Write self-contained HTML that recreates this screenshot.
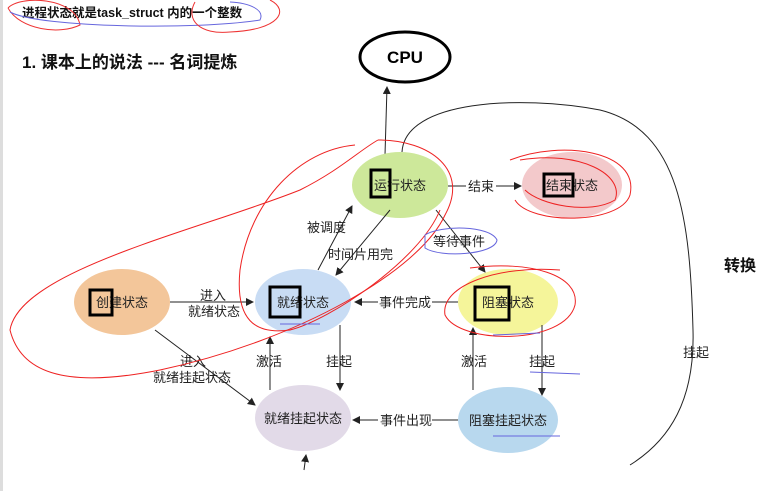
<!DOCTYPE html>
<html><head><meta charset="utf-8"><style>
body{margin:0;background:#fff;}
svg{display:block;font-family:"Liberation Sans","Noto Sans CJK SC",sans-serif;}
.t{font-size:13px;fill:#222;}
</style></head><body>
<svg width="767" height="491" viewBox="0 0 767 491">
<defs><marker id="a" markerWidth="8" markerHeight="8" refX="7" refY="4" orient="auto"><path d="M0,0 L8,4 L0,8z" fill="#222"/></marker></defs>
<rect x="0" y="0" width="3" height="491" fill="#ddd"/>
<text x="22" y="17" font-size="12.5" font-weight="bold" fill="#111">进程状态就是task_struct 内的一个整数</text>
<path d="M8,8 C20,-5 75,-3 80,25 C60,35 20,30 8,8" fill="none" stroke="#e33" stroke-width="1"/>
<path d="M10,12 C40,28 200,30 260,20 C265,10 250,3 230,2" fill="none" stroke="#66d" stroke-width="1"/>
<path d="M195,2 C185,20 200,35 230,32 C280,30 290,10 270,0" fill="none" stroke="#e33" stroke-width="1"/>
<text x="22" y="68" font-size="17" font-weight="bold" fill="#111">1. 课本上的说法 --- 名词提炼</text>
<text x="724" y="271" font-size="16" font-weight="bold" fill="#111">转换</text>

<ellipse cx="405" cy="57" rx="45" ry="25" fill="#fff" stroke="#000" stroke-width="3"/>
<text x="405" y="63" font-size="17" font-weight="bold" text-anchor="middle">CPU</text>
<line x1="385" y1="155" x2="387" y2="87" stroke="#222" marker-end="url(#a)"/>

<path d="M402,152 C405,100 520,95 600,110 C680,130 690,220 693,330 C695,400 670,440 630,465" fill="none" stroke="#222" stroke-width="1"/>
<text x="683" y="357" class="t">挂起</text>

<ellipse cx="400" cy="185" rx="48" ry="33" fill="#cde89a"/>
<ellipse cx="572" cy="185" rx="50" ry="33" fill="#f3c9cb"/>
<ellipse cx="508" cy="302" rx="50" ry="33" fill="#f5f59a"/>
<ellipse cx="508" cy="420" rx="50" ry="33" fill="#b8d8ee"/>
<ellipse cx="303" cy="302" rx="48" ry="33" fill="#c8dcf4"/>
<ellipse cx="122" cy="302" rx="48" ry="33" fill="#f3c69a"/>
<ellipse cx="303" cy="418" rx="48" ry="33" fill="#e2dae8"/>

<text x="400" y="190" class="t" text-anchor="middle">运行状态</text>
<text x="572" y="190" class="t" text-anchor="middle">结束状态</text>
<text x="508" y="307" class="t" text-anchor="middle">阻塞状态</text>
<text x="508" y="425" class="t" text-anchor="middle">阻塞挂起状态</text>
<text x="303" y="307" class="t" text-anchor="middle">就绪状态</text>
<text x="122" y="307" class="t" text-anchor="middle">创建状态</text>
<text x="303" y="423" class="t" text-anchor="middle">就绪挂起状态</text>

<g fill="none" stroke="#000" stroke-width="3">
<rect x="371" y="170" width="19" height="27"/><rect x="544" y="174" width="29" height="22"/>
<rect x="475" y="287" width="34" height="33"/><rect x="270" y="287" width="30" height="30"/>
<rect x="90" y="290" width="22" height="25"/>
</g>

<g stroke="#222" stroke-width="1" fill="none">
<line x1="448" y1="186" x2="521" y2="186" marker-end="url(#a)"/>
<line x1="436" y1="210" x2="485" y2="272" marker-end="url(#a)"/>
<line x1="458" y1="302" x2="355" y2="302" marker-end="url(#a)"/>
<line x1="318" y1="270" x2="352" y2="206" marker-end="url(#a)"/>
<line x1="390" y1="210" x2="336" y2="275" marker-end="url(#a)"/>
<line x1="170" y1="302" x2="253" y2="302" marker-end="url(#a)"/>
<line x1="155" y1="330" x2="255" y2="405" marker-end="url(#a)"/>
<line x1="270" y1="390" x2="270" y2="337" marker-end="url(#a)"/>
<line x1="340" y1="325" x2="340" y2="390" marker-end="url(#a)"/>
<line x1="458" y1="420" x2="353" y2="420" marker-end="url(#a)"/>
<line x1="473" y1="390" x2="473" y2="328" marker-end="url(#a)"/>
<line x1="542" y1="325" x2="542" y2="395" marker-end="url(#a)"/>
</g>
<g class="t">
<rect x="466" y="178" width="30" height="16" fill="#fff"/><text x="468" y="191">结束</text>
<text x="433" y="246">等待事件</text>
<rect x="378" y="294" width="54" height="16" fill="#fff"/><text x="379" y="307">事件完成</text>
<text x="307" y="232">被调度</text>
<text x="328" y="259">时间片用完</text>
<text x="200" y="300">进入</text><text x="188" y="316">就绪状态</text>
<text x="180" y="366">进入</text><text x="153" y="382">就绪挂起状态</text>
<text x="256" y="366">激活</text><text x="326" y="366">挂起</text>
<text x="461" y="366">激活</text><text x="529" y="366">挂起</text>
<rect x="378" y="412" width="54" height="16" fill="#fff"/><text x="380" y="425">事件出现</text>
</g>

<g fill="none" stroke="#e22" stroke-width="1">
<path d="M378,140 C430,140 470,170 445,215 C420,270 300,340 160,370 C60,390 20,370 10,330 C20,270 200,230 300,190 C340,170 360,150 378,140"/>
<path d="M355,145 C300,150 250,200 240,270 C235,320 255,335 290,330 C330,320 420,260 440,210"/>
<path d="M510,160 C560,140 640,150 630,195 C620,225 530,225 515,200"/>
<path d="M520,160 C580,150 625,175 615,200 C590,215 540,205 525,190"/>
<path d="M470,268 C530,260 580,275 575,305 C565,345 460,345 445,315 C440,285 500,265 560,270"/>
</g>
<g fill="none" stroke="#66d" stroke-width="1">
<path d="M425,235 C440,225 490,225 497,240 C495,255 440,258 425,248z"/>
<line x1="280" y1="324" x2="320" y2="324"/><line x1="493" y1="436" x2="560" y2="436"/>
<line x1="493" y1="335" x2="540" y2="333"/><line x1="530" y1="372" x2="580" y2="374"/>
</g>
<line x1="304" y1="470" x2="306" y2="455" stroke="#222" marker-end="url(#a)"/>
</svg>
</body></html>
